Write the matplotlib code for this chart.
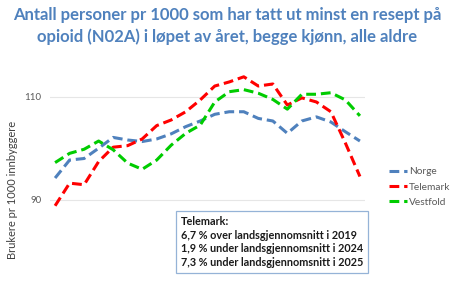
import numpy as np
import matplotlib
matplotlib.use("Agg")
import matplotlib.pyplot as plt

# data, years 2004-2025
years = list(range(2004, 2026))
norge = [94.2, 97.7, 98.0, 100.0, 102.1, 101.6, 101.3, 101.8, 102.8, 104.2, 105.3,
         106.6, 107.1, 107.1, 105.8, 105.3, 102.9, 105.3, 106.1, 105.1, 103.2, 101.4]
telemark = [88.8, 93.2, 92.9, 97.4, 100.2, 100.5, 101.8, 104.4, 105.5, 107.1, 109.4,
            112.1, 112.9, 113.9, 112.1, 112.5, 108.4, 109.8, 109.0, 107.1, 101.0, 94.5]
vestfold = [97.2, 99.0, 99.8, 101.4, 99.7, 97.1, 95.9, 97.7, 100.6, 102.9, 104.5,
            109.0, 111.0, 111.4, 110.7, 109.5, 107.6, 110.5, 110.5, 110.8, 109.4, 106.3]
series_names = ["Norge", "Telemark", "Vestfold"]
yticks = [90, 110]

title = "Antall personer pr 1000 som har tatt ut minst en resept på\nopioid (N02A) i løpet av året, begge kjønn, alle aldre"
ylab = "Brukere pr 1000 innbyggere"
box_text = ("Telemark:\n6,7 % over landsgjennomsnitt i 2019\n"
            "1,9 % under landsgjennomsnitt i 2024\n7,3 % under landsgjennomsnitt i 2025")

plt.rcParams['font.family'] = ['Lato', 'DejaVu Sans']

fig = plt.figure(figsize=(4.53, 2.94), dpi=100)
ax = fig.add_axes([50/453, 1-251/294, (365-50)/453, (251-66)/294])

colors = ["#4F81BD", "#FF0000", "#00CC00"]
for vals, name, c in zip([norge, telemark, vestfold], series_names, colors):
    ax.plot(years, vals, color=c, lw=2.2, ls=(0, (3.2, 1.6)), label=name)

ax.set_xlim(2003.65, 2025.35)
ax.set_ylim(80, 116)
ax.set_yticks(yticks)
ax.set_xticks([])
ax.tick_params(axis='y', length=0, labelsize=7, labelcolor="#595959", pad=6)
ax.grid(axis='y', color="#E6E6E6", lw=0.8)
for s in ax.spines.values():
    s.set_visible(False)

fig.text(227/453, 1-26/294, title, ha='center', va='center', fontsize=12,
         fontweight='bold', color="#4F81BD", linespacing=1.45)
fig.text(13/453, 1-190/294, ylab, rotation=90, ha='center', va='center',
         fontsize=8, color="#404040")

leg = fig.legend(loc='center left', bbox_to_anchor=(386/453, 1-187/294), frameon=False,
                 fontsize=7.3, handlelength=1.8, handletextpad=0.15, labelspacing=0.6,
                 borderaxespad=0, borderpad=0.3)
for t in leg.get_texts():
    t.set_color("#595959")

fig.text(181/453, 1-242/294, box_text, ha='left', va='center', fontsize=7.8,
         fontweight='bold', color="#1a1a1a", linespacing=1.3,
         bbox=dict(boxstyle='square,pad=0.45', fc='white', ec="#95B3D7", lw=0.9))

fig.savefig("out.png", dpi=100)
